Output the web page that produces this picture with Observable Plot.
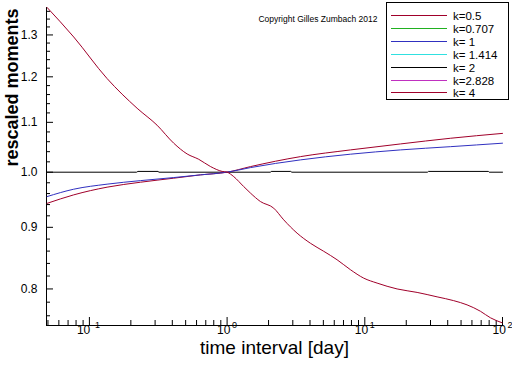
<!DOCTYPE html>
<html><head><meta charset="utf-8">
<script src="https://cdn.jsdelivr.net/npm/d3@7"></script>
<script src="https://cdn.jsdelivr.net/npm/@observablehq/plot@0.6"></script>
<style>
body{margin:0;background:#fff;}
#wrap{position:relative;width:512px;height:366px;font-family:"Liberation Sans",Arial,sans-serif;}
</style></head><body><div id="wrap"></div>
<script>
// ---- data ----
const k4_t = [0.0493, 0.0769, 0.1344, 0.2221, 0.310, 0.4095, 0.5124, 0.622, 0.756, 0.920, 1.0, 1.117, 1.320, 1.476, 1.745, 2.18, 2.577, 3.224, 4.027, 5.03, 6.29, 7.86, 9.82, 12.28, 17.16, 23.99, 33.5, 44.2, 55.3, 69.1, 81.7, 99.3];
const k4_m = [1.370, 1.295, 1.196, 1.130, 1.094, 1.057, 1.0355, 1.025, 1.011, 1.0015, 1.0, 0.9916, 0.9729, 0.961, 0.9455, 0.9336, 0.913, 0.890, 0.873, 0.8597, 0.8459, 0.830, 0.8167, 0.809, 0.800, 0.7947, 0.788, 0.7823, 0.776, 0.7666, 0.7571, 0.7499];
const k05_t = [0.0493, 0.0769, 0.1344, 0.2346, 0.4095, 0.640, 1.0, 1.476, 3.406, 7.86, 18.14, 41.8, 100];
const k05_m = [0.9422, 0.9576, 0.9718, 0.981, 0.9886, 0.9949, 1.0, 1.0107, 1.0302, 1.0435, 1.0555, 1.067, 1.077];
const k1_t = [0.0493, 0.0769, 0.1344, 0.2346, 0.4095, 0.640, 1.0, 1.476, 3.406, 7.86, 18.14, 41.8, 100];
const k1_m = [0.9545, 0.968, 0.9774, 0.984, 0.9898, 0.9949, 1.0, 1.0088, 1.0238, 1.035, 1.0435, 1.050, 1.057];
const k2_t = [0.0493, 0.22, 0.225, 0.315, 0.32, 2.07, 2.09, 2.9, 2.95, 28.5, 29, 79, 80, 100];
const k2_m = [1.0, 1.0, 1.0015, 1.0015, 1.0, 1.0, 1.0015, 1.0015, 1.0, 1.0, 1.0015, 1.0015, 1.0, 1.0];

const legendLabels = ["k=0.5", "k=0.707", "k= 1", "k= 1.414", "k= 2", "k=2.828", "k= 4"];
const legendColors = ["#a0002a", "#20b020", "#3030c0", "#30e0e0", "#000000", "#c030c0", "#a0002a"];

const xMajor = [0.1, 1, 10, 100];
const xExp = ["-1", "0", "1", "2"];
const xMinor = [0.05, 0.06, 0.07, 0.08, 0.09, 0.2, 0.3, 0.4, 0.5, 0.6, 0.7, 0.8, 0.9, 2, 3, 4, 5, 6, 7, 8, 9, 20, 30, 40, 50, 60, 70, 80, 90];
const yMajor = [0.8, 0.9, 1.0, 1.1, 1.2, 1.3];
const yMinor = [0.76, 0.78, 0.82, 0.84, 0.86, 0.88, 0.92, 0.94, 0.96, 0.98, 1.02, 1.04, 1.06, 1.08, 1.12, 1.14, 1.16, 1.18, 1.22, 1.24, 1.26, 1.28, 1.32, 1.34, 1.36];
const xDomain = [0.0488, 100];
const yDomain = [0.746, 1.37];
const xTitle = "time interval [day]";
const yTitle = "rescaled moments";
const copyright = "Copyright Gilles Zumbach 2012";

// ---- layout ----
const W = 512, H = 366, mL = 46, mR = 10, mT = 7, mB = 41;
const font = "'Liberation Sans', Arial, sans-serif";

const series = (t, m) => t.map((d, i) => ({t: d, m: m[i]}));

const xLabelMarks = [];
xMajor.forEach((v, i) => {
  const we = xExp[i].length * 5;
  const total = 15 + we;
  xLabelMarks.push(Plot.text([v], {x: d => d, frameAnchor: "bottom", text: () => "10", textAnchor: "start", dx: -total / 2, dy: 8, fontSize: 12}));
  xLabelMarks.push(Plot.text([v], {x: d => d, frameAnchor: "bottom", text: () => xExp[i], textAnchor: "start", dx: -total / 2 + 15, dy: 2.5, fontSize: 9}));
});

const chart = Plot.plot({
  width: W, height: H,
  marginLeft: mL, marginRight: mR, marginTop: mT, marginBottom: mB,
  style: {fontFamily: font, background: "white", color: "black", overflow: "visible"},
  x: {type: "log", domain: xDomain, axis: null},
  y: {type: "log", domain: yDomain, axis: null},
  marks: [
    Plot.text(yMajor, {y: d => d, frameAnchor: "left", text: d => d.toFixed(1), textAnchor: "end", dx: -9, fontSize: 12}),
    Plot.axisY({ticks: yMajor, tickSize: 7, dx: 7, tickFormat: () => "", label: null}),
    Plot.axisY({ticks: yMinor, tickSize: 4, dx: 4, tickFormat: () => "", label: null}),
    Plot.axisX({ticks: xMajor, tickSize: 8, dy: -8, tickFormat: () => "", label: null}),
    Plot.axisX({ticks: xMinor, tickSize: 5, dy: -5, tickFormat: () => "", label: null}),
    Plot.ruleX([xDomain[0]], {stroke: "black"}),
    Plot.ruleY([yDomain[0]], {stroke: "black"}),
    Plot.line(series(k2_t, k2_m), {x: "t", y: "m", stroke: legendColors[4], strokeWidth: 1}),
    Plot.line(series(k05_t, k05_m), {x: "t", y: "m", stroke: legendColors[0], strokeWidth: 1, curve: "monotone-x"}),
    Plot.line(series(k1_t, k1_m), {x: "t", y: "m", stroke: legendColors[2], strokeWidth: 1, curve: "monotone-x"}),
    Plot.line(series(k4_t, k4_m), {x: "t", y: "m", stroke: legendColors[6], strokeWidth: 1, curve: "monotone-x"}),
    ...xLabelMarks,
    Plot.text([xTitle], {frameAnchor: "bottom", text: d => d, dy: 28, fontSize: 19}),
    Plot.text([yTitle], {frameAnchor: "left", text: d => d, dx: -34, rotate: -90, fontSize: 18, fontWeight: "bold"}),
    Plot.text([copyright], {frameAnchor: "top-right", text: d => d, textAnchor: "end", dx: -125, dy: 8.5, fontSize: 8.5})
  ]
});
document.getElementById("wrap").appendChild(chart);

// ---- legend (overlay box in the top-right corner) ----
const leg = d3.select("#wrap").append("svg")
  .attr("width", 124).attr("height", 99)
  .style("position", "absolute").style("left", "386px").style("top", "2px")
  .style("font-family", font);
leg.append("rect").attr("x", 0.5).attr("y", 0.5).attr("width", 122).attr("height", 97)
  .attr("fill", "white").attr("stroke", "black");
legendLabels.forEach((lab, i) => {
  const y = Math.round(13 + i * 12.9) + 0.5;
  leg.append("line").attr("x1", 5).attr("x2", 61).attr("y1", y).attr("y2", y)
    .attr("stroke", legendColors[i]).attr("stroke-width", 1);
  leg.append("text").attr("x", 67).attr("y", y).attr("dy", "0.35em")
    .attr("font-size", 11.5).attr("fill", "black").text(lab);
});
</script></body></html>
